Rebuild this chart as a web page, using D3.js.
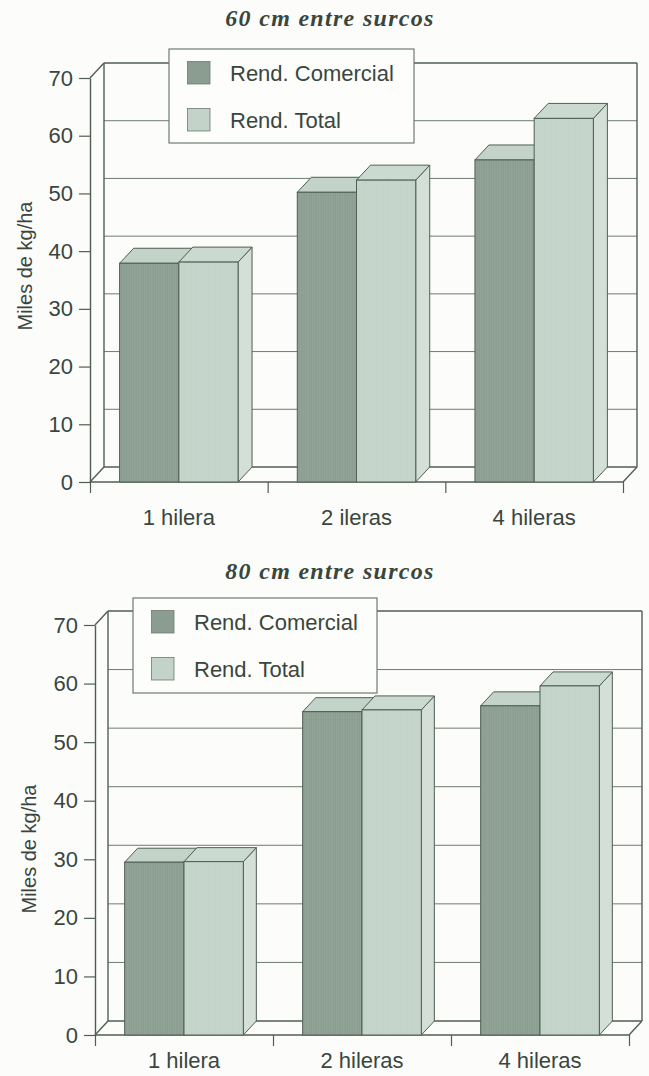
<!DOCTYPE html>
<html>
<head>
<meta charset="utf-8">
<script src="https://cdn.jsdelivr.net/npm/d3@7"></script>
<style>
  html, body { margin: 0; padding: 0; background: #fcfdfb; }
  svg { display: block; }
</style>
</head>
<body>
<svg id="chart" width="649" height="1076"></svg>
<script>
// Rendimiento (miles de kg/ha) según número de hileras por surco
const yTicks = [0, 10, 20, 30, 40, 50, 60, 70];
const seriesNames = ["Rend. Comercial", "Rend. Total"];
const yLabel = "Miles de kg/ha";

const title60 = "60 cm entre surcos";
const categories60 = ["1 hilera", "2 ileras", "4 hileras"];
const comercial60 = [37.9, 50.2, 55.8];
const total60 = [38.1, 52.3, 63.0];

const title80 = "80 cm entre surcos";
const categories80 = ["1 hilera", "2 hileras", "4 hileras"];
const comercial80 = [29.5, 55.2, 56.2];
const total80 = [29.6, 55.5, 59.6];

const colors = {
  front: ["#8b9d90", "#c3d3c9"],
  top:   ["#c3d3c9", "#cbdad0"],
  side:  ["#b7c8bd", "#d3dfd7"],
  line:  "#4f5e53",
  grid:  "#6d7b71",
  text:  "#3a463d"
};

const svg = d3.select("#chart");

// Fine vertical print striping on the bar faces
const defs = svg.append("defs");
defs.append("pattern")
  .attr("id", "stripes").attr("patternUnits", "userSpaceOnUse")
  .attr("width", 2.4).attr("height", 4)
  .append("rect").attr("width", 1).attr("height", 4)
  .attr("fill", "#ffffff").attr("opacity", 0.07);

function drawPanel(p) {
  const g = svg.append("g");
  const y = d3.scaleLinear().domain([0, 70]).range([p.y0, p.y70]);
  const x = d3.scaleBand().domain(p.categories).range([p.x0, p.x1]);
  const band = x.bandwidth();
  const w = band / 3;
  const dx = p.dx, dy = p.dy;

  // Title
  g.append("text")
    .attr("x", p.titleX).attr("y", p.titleY)
    .attr("text-anchor", "middle")
    .attr("font-family", "'Liberation Serif', 'Times New Roman', serif")
    .attr("font-weight", "bold").attr("font-style", "italic")
    .attr("font-size", 24).attr("letter-spacing", 1.3)
    .attr("fill", colors.text)
    .text(p.title);

  // Back wall grid lines
  g.append("g").selectAll("line").data(yTicks).join("line")
    .attr("x1", p.x0 + dx).attr("x2", p.x1 + dx)
    .attr("y1", d => y(d) - dy).attr("y2", d => y(d) - dy)
    .attr("stroke", d => (d === 0 || d === 70) ? colors.line : colors.grid)
    .attr("stroke-width", d => (d === 0 || d === 70) ? 1.4 : 1);

  // Frame: back verticals, left wall diagonals, floor edge
  const frame = [
    [[p.x0 + dx, y(0) - dy], [p.x0 + dx, y(70) - dy]],
    [[p.x1 + dx, y(0) - dy], [p.x1 + dx, y(70) - dy]],
    [[p.x0, y(70)], [p.x0 + dx, y(70) - dy]],
    [[p.x0, y(0)], [p.x0 + dx, y(0) - dy]],
    [[p.x1, y(0)], [p.x1 + dx, y(0) - dy]],
    [[p.x0, y(0)], [p.x1, y(0)]]
  ];
  g.append("g").selectAll("path").data(frame).join("path")
    .attr("d", d => d3.line()(d))
    .attr("fill", "none").attr("stroke", colors.line).attr("stroke-width", 1.4);

  // Y axis on the front edge
  const yAxis = g.append("g")
    .attr("transform", `translate(${p.x0},0)`)
    .call(d3.axisLeft(y).tickValues(yTicks).tickSize(11).tickSizeOuter(0).tickPadding(6));
  yAxis.select(".domain").attr("stroke", colors.line).attr("stroke-width", 1.4);
  yAxis.selectAll(".tick line").attr("stroke", colors.line).attr("stroke-width", 1.2);
  yAxis.selectAll(".tick text")
    .attr("font-family", "'Liberation Sans', Arial, sans-serif")
    .attr("font-size", 22).attr("fill", colors.text);

  // X axis: ticks on category boundaries, labels centred in each band
  const xb = d3.scaleLinear().domain([0, p.categories.length]).range([p.x0, p.x1]);
  const xTicks = g.append("g")
    .attr("transform", `translate(0,${p.y0})`)
    .call(d3.axisBottom(xb).tickValues(d3.range(p.categories.length + 1)).tickSize(11).tickFormat(""));
  xTicks.select(".domain").remove();
  xTicks.selectAll(".tick line").attr("stroke", colors.line).attr("stroke-width", 1.2);

  const xLabels = g.append("g")
    .attr("transform", `translate(0,${p.xLabelY})`)
    .call(d3.axisBottom(x).tickSize(0).tickPadding(0));
  xLabels.select(".domain").remove();
  xLabels.selectAll(".tick text")
    .attr("dy", 0).attr("y", 0)
    .attr("font-family", "'Liberation Sans', Arial, sans-serif")
    .attr("font-size", 22).attr("fill", colors.text);

  // Y axis title
  g.append("text")
    .attr("transform", `translate(${p.yLabelX},${p.yLabelY}) rotate(-90)`)
    .attr("text-anchor", "middle").attr("dominant-baseline", "central")
    .attr("font-family", "'Liberation Sans', Arial, sans-serif")
    .attr("font-size", 20).attr("fill", colors.text)
    .text(yLabel);

  // 3-D bars: for each category, commercial then total
  const rows = [];
  p.categories.forEach((c, i) => {
    [p.comercial[i], p.total[i]].forEach((v, s) => rows.push({ c, s, v }));
  });
  const bars = g.append("g").selectAll("g").data(rows).join("g");
  const left = d => x(d.c) + band / 6 + d.s * w;
  const sidePath = d => {
    const r = left(d) + w, t = y(d.v);
    return d3.line()([[r, t], [r + dx, t - dy], [r + dx, p.y0 - dy], [r, p.y0]]) + "Z";
  };
  const topPath = d => {
    const l = left(d), r = l + w, t = y(d.v);
    return d3.line()([[l, t], [l + dx, t - dy], [r + dx, t - dy], [r, t]]) + "Z";
  };
  bars.append("path").attr("d", sidePath)
    .attr("fill", d => colors.side[d.s]).attr("stroke", colors.line).attr("stroke-width", 1);
  bars.append("path").attr("d", topPath)
    .attr("fill", d => colors.top[d.s]).attr("stroke", colors.line).attr("stroke-width", 1);
  bars.append("rect")
    .attr("x", left).attr("y", d => y(d.v))
    .attr("width", w).attr("height", d => p.y0 - y(d.v))
    .attr("fill", d => colors.front[d.s]).attr("stroke", colors.line).attr("stroke-width", 1);
  bars.append("rect")
    .attr("x", d => left(d) + 0.5).attr("y", d => y(d.v) + 0.5)
    .attr("width", w - 1).attr("height", d => p.y0 - y(d.v) - 1)
    .attr("fill", "url(#stripes)");

  // Legend
  const L = p.legend;
  const lg = g.append("g").attr("transform", `translate(${L.x},${L.y})`);
  lg.append("rect").attr("width", L.w).attr("height", L.h)
    .attr("fill", "#fdfefc").attr("stroke", colors.grid).attr("stroke-width", 1.2);
  const items = lg.selectAll("g").data(seriesNames).join("g")
    .attr("transform", (d, i) => `translate(0,${i * 47})`);
  items.append("rect")
    .attr("x", 18.5).attr("y", 12.5).attr("width", 22.5).attr("height", 22.5)
    .attr("fill", (d, i) => colors.front[i]).attr("stroke", colors.grid).attr("stroke-width", 0.8);
  items.append("text")
    .attr("x", 61).attr("y", 32)
    .attr("font-family", "'Liberation Sans', Arial, sans-serif")
    .attr("font-size", 22).attr("fill", colors.text)
    .text(d => d);
}

drawPanel({
  title: title60, categories: categories60, comercial: comercial60, total: total60,
  x0: 90, x1: 623, y0: 482, y70: 78, dx: 14, dy: 15,
  titleX: 330, titleY: 26, xLabelY: 525, yLabelX: 25, yLabelY: 266,
  legend: { x: 169, y: 49, w: 245, h: 94 }
});

drawPanel({
  title: title80, categories: categories80, comercial: comercial80, total: total80,
  x0: 95, x1: 629, y0: 1035, y70: 625, dx: 13, dy: 14,
  titleX: 330, titleY: 579, xLabelY: 1068, yLabelX: 29, yLabelY: 849,
  legend: { x: 133, y: 598, w: 244, h: 95 }
});
</script>
</body>
</html>
